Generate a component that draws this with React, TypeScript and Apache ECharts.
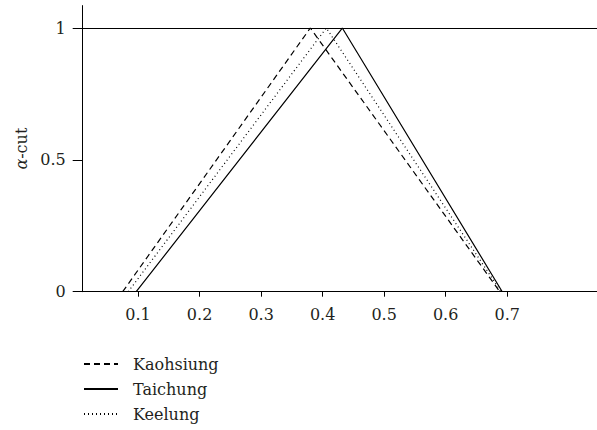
import React, { useEffect, useRef } from "react";
import * as echarts from "echarts";

const seriesNames = ["Kaohsiung", "Taichung", "Keelung"];
const kaohsiung: [number, number][] = [[0.075, 0], [0.38, 1], [0.688, 0]];
const taichung: [number, number][] = [[0.097, 0], [0.432, 1], [0.692, 0]];
const keelung: [number, number][] = [[0.084, 0], [0.406, 1], [0.69, 0]];
const xTicks = [0.1, 0.2, 0.3, 0.4, 0.5, 0.6, 0.7];
const yTicks = [0, 0.5, 1];
const topLevel = 1;

const FONT = "DejaVu Serif";
const TEXT = "#231f20";
const FS = 16;

export default function App() {
  const ref = useRef<HTMLDivElement>(null);
  useEffect(() => {
    if (!ref.current) return;
    const chart = echarts.init(ref.current, null, { renderer: "svg" });
    const mk = (name: string, data: [number, number][], type: any) => ({
      name,
      type: "line",
      data,
      symbol: "none",
      lineStyle: { color: "#000", width: 1.2, type },
      itemStyle: { color: "#000" },
    });
    chart.setOption({
      animation: false,
      textStyle: { fontFamily: FONT, fontSize: FS },
      grid: { left: 82.7, right: 0, top: 5.6, bottom: 138.3, containLabel: false },
      xAxis: {
        type: "value",
        min: 0.01,
        max: 0.846,
        axisLine: { show: true, onZero: false, lineStyle: { color: "#000", width: 1 } },
        axisTick: { show: true, customValues: xTicks, length: 5, lineStyle: { color: "#000" } },
        axisLabel: {
          customValues: xTicks,
          formatter: (v: number) => v.toFixed(1),
          color: TEXT,
          fontSize: FS,
          fontFamily: FONT,
          margin: 15,
        },
        splitLine: { show: false },
      },
      yAxis: {
        type: "value",
        min: 0,
        max: 1.085,
        name: "{i|α}-cut",
        nameLocation: "middle",
        nameGap: 45,
        nameTextStyle: {
          color: TEXT,
          fontSize: FS,
          fontFamily: FONT,
          rich: {
            i: { fontStyle: "italic", fontSize: FS, fontFamily: FONT, color: TEXT },
          },
        },
        axisLine: { show: true, lineStyle: { color: "#000", width: 1 } },
        axisTick: { show: true, customValues: yTicks, length: 10, lineStyle: { color: "#000" } },
        axisLabel: {
          customValues: yTicks,
          formatter: (v: number) => String(v),
          color: TEXT,
          fontSize: FS,
          fontFamily: FONT,
          margin: 17,
        },
        splitLine: { show: false },
      },
      legend: {
        orient: "vertical",
        left: 83,
        top: 356,
        padding: 0,
        itemWidth: 34,
        itemHeight: 12,
        itemGap: 9,
        height: 74,
        data: seriesNames,
        itemStyle: { opacity: 0 },
        textStyle: { color: TEXT, fontSize: FS, fontFamily: FONT, padding: [0, 0, 0, 10] },
      },
      series: [
        mk(seriesNames[0], kaohsiung, [6, 4]),
        {
          ...mk(seriesNames[1], taichung, "solid"),
          markLine: {
            silent: true,
            symbol: "none",
            label: { show: false },
            lineStyle: { color: "#000", type: "solid", width: 1.2 },
            data: [{ yAxis: topLevel }],
          },
        },
        mk(seriesNames[2], keelung, [1, 3]),
      ],
    });
    return () => chart.dispose();
  }, []);
  return (
    <div
      ref={ref}
      style={{ position: "fixed", left: 0, top: 0, width: 597, height: 430, background: "#fff" }}
    />
  );
}
